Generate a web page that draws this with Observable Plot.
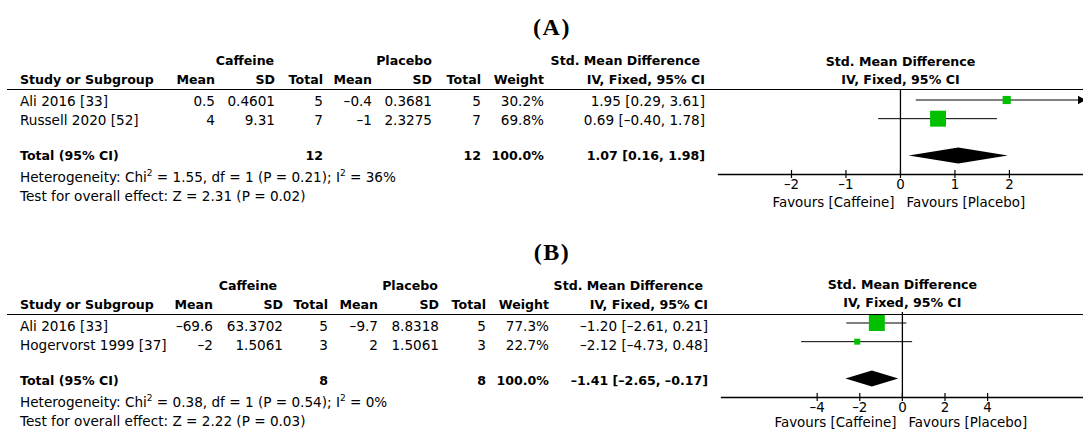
<!DOCTYPE html>
<html><head><meta charset="utf-8">
<script src="https://cdn.jsdelivr.net/npm/d3@7"></script>
<script src="https://cdn.jsdelivr.net/npm/@observablehq/plot@0.6"></script>
<style>
body{margin:0;background:#fff;}
#root{position:relative;width:1083px;height:431px;overflow:hidden;font-family:"DejaVu Sans",sans-serif;font-size:13.6px;color:#000;background:#fff;}
.t{position:absolute;white-space:nowrap;line-height:18px;height:18px;}
.b{font-weight:bold;font-size:12.6px;}
.title{position:absolute;font-family:"Liberation Serif",serif;font-weight:bold;font-size:24px;line-height:24px;letter-spacing:1.5px;transform:translate(-50%,-50%);}
.hr{position:absolute;height:0;border-top:1.5px solid #000;}
.pw{position:absolute;}
sup{font-size:9px;vertical-align:6px;line-height:0;}
</style></head><body><div id="root"></div>
<script>
// ---------- data ----------
const panelTitles = ["(A)", "(B)"];
const groupHeaders = ["Caffeine", "Placebo", "Std. Mean Difference"];
const colHeaders = ["Study or Subgroup", "Mean", "SD", "Total", "Mean", "SD", "Total", "Weight", "IV, Fixed, 95% CI"];
const plotHeaders = ["Std. Mean Difference", "IV, Fixed, 95% CI"];
const favourLabels = ["Favours [Caffeine]", "Favours [Placebo]"];
const totalLabel = "Total (95% CI)";

// Panel A
const studiesA = ["Ali 2016 [33]", "Russell 2020 [52]"];
const caffMeanA = [0.5, 4];
const caffSdA = [0.4601, 9.31];
const caffNA = [5, 7];
const placMeanA = [-0.4, -1];
const placSdA = [0.3681, 2.3275];
const placNA = [5, 7];
const weightA = [30.2, 69.8];
const smdA = [1.95, 0.69];
const loA = [0.29, -0.40];
const hiA = [3.61, 1.78];
const totalNA = [12, 12];
const totalWeightA = 100.0;
const totalCIA = [1.07, 0.16, 1.98];
const hetA = [1.55, 1, 0.21, 36];   // Chi2, df, P, I2
const testA = [2.31, 0.02];         // Z, P
const ticksA = [-2, -1, 0, 1, 2];
const xExtentA = [-3.34, 3.36];

// Panel B
const studiesB = ["Ali 2016 [33]", "Hogervorst 1999 [37]"];
const caffMeanB = [-69.6, -2];
const caffSdB = [63.3702, 1.5061];
const caffNB = [5, 3];
const placMeanB = [-9.7, 2];
const placSdB = [8.8318, 1.5061];
const placNB = [5, 3];
const weightB = [77.3, 22.7];
const smdB = [-1.20, -2.12];
const loB = [-2.61, -4.73];
const hiB = [0.21, 0.48];
const totalNB = [8, 8];
const totalWeightB = 100.0;
const totalCIB = [-1.41, -2.65, -0.17];
const hetB = [0.38, 1, 0.54, 0];
const testB = [2.22, 0.03];
const ticksB = [-4, -2, 0, 2, 4];
const xExtentB = [-8.49, 8.5];

// ---------- helpers ----------
const root = document.getElementById("root");
const W = 1083;
const neg = s => s.replace(/-/g, "\u2013");
const num = v => neg(String(v));
const fx = (v, d) => neg(v.toFixed(d));
const ci = (e, l, h) => `${fx(e,2)} [${fx(l,2)}, ${fx(h,2)}]`;

function put(text, x, y, align, cls) {
  const el = document.createElement("div");
  el.className = "t " + (cls || "");
  el.innerHTML = text;
  el.style.top = (y - 9) + "px";
  if (align === "right") el.style.right = (W - x) + "px";
  else if (align === "center") { el.style.left = x + "px"; el.style.transform = "translateX(-50%)"; }
  else el.style.left = x + "px";
  root.appendChild(el);
}

function forest(cfg) {
  const rows = cfg.studies.map((s, i) => ({study: s, row: i, smd: cfg.smd[i], lo: cfg.lo[i], hi: cfg.hi[i], weight: cfg.weight[i]}));
  const tRow = cfg.studies.length + 1;
  const [est, lo, hi] = cfg.totalCI;
  const h = 0.43;
  const diamond = [
    {x: lo, y1: tRow, y2: tRow},
    {x: est, y1: tRow - h, y2: tRow + h},
    {x: hi, y1: tRow, y2: tRow}
  ];
  const [xmin, xmax] = cfg.xExtent;
  return Plot.plot({
    width: 383, height: 170,
    marginTop: 44, marginBottom: 41, marginLeft: cfg.marginLeft, marginRight: 0,
    x: {domain: cfg.xExtent},
    y: {domain: [0, tRow], range: [54.5, 110.5], axis: null},
    r: {type: "pow", exponent: 0.8, domain: [0, d3.max(cfg.weight)], range: [0, 9]},
    style: {background: "none", fontFamily: "DejaVu Sans, sans-serif", fontSize: "13.4px", overflow: "visible", color: "#000"},
    marks: [
      Plot.ruleX([0], {stroke: "#000", strokeWidth: 1.3}),
      Plot.frame({anchor: "bottom", stroke: "#000", strokeWidth: 1.3}),
      Plot.ruleY(rows, {y: "row", x1: d => Math.max(d.lo, xmin), x2: d => Math.min(d.hi, xmax), stroke: "#000", strokeWidth: 1}),
      Plot.dot(rows.filter(d => d.hi > xmax), {x: () => xmax, y: "row", symbol: "triangle", rotate: 90, r: 3.2, fill: "#000", dx: -3}),
      Plot.dot(rows, {x: "smd", y: "row", r: "weight", symbol: "square", fill: "#00c000", stroke: null}),
      Plot.areaY(diamond, {x: "x", y1: "y1", y2: "y2", fill: "#000"}),
      Plot.axisX({ticks: cfg.ticks, tickFormat: d => num(d), tickSize: 8, dy: -4, tickPadding: 1, stroke: "#000", strokeWidth: 1.2}),
      Plot.text([plotHeaders[0]], {x: () => 0, text: d => d, frameAnchor: "top", lineAnchor: "middle", dy: -28, fontWeight: "bold", fontSize: 12.6}),
      Plot.text([plotHeaders[1]], {x: () => 0, text: d => d, frameAnchor: "top", lineAnchor: "middle", dy: -9.5, fontWeight: "bold", fontSize: 12.6}),
      Plot.text([favourLabels[0]], {x: () => 0, text: d => d, frameAnchor: "bottom", lineAnchor: "middle", dy: cfg.favDy, dx: -6, textAnchor: "end"}),
      Plot.text([favourLabels[1]], {x: () => 0, text: d => d, frameAnchor: "bottom", lineAnchor: "middle", dy: cfg.favDy, dx: 6, textAnchor: "start"})
    ]
  });
}

function panel(cfg) {
  const T = cfg.top;
  const tt = document.createElement("div");
  tt.className = "title"; tt.textContent = cfg.title;
  tt.style.left = "552px"; tt.style.top = (T + 27) + "px";
  root.appendChild(tt);

  const c = cfg.cols;
  put(groupHeaders[0], c.caff, T + 61, "center", "b");
  put(groupHeaders[1], c.plac, T + 61, "center", "b");
  put(groupHeaders[2], c.smdHdr, T + 61, "right", "b");
  put(colHeaders[0], c.study, T + 79.5, "left", "b");
  const keys = ["mean", "sd", "n", "pmean", "psd", "pn", "w", "ci"];
  keys.forEach((k, i) => put(colHeaders[i + 1], c[k], T + 79.5, "right", "b"));

  const hr = document.createElement("div");
  hr.className = "hr"; hr.style.left = "7px"; hr.style.width = (W - 7) + "px"; hr.style.top = (T + 88.5) + "px";
  root.appendChild(hr);

  const rowY = [100.5, 119.5];
  cfg.studies.forEach((s, i) => {
    const y = T + rowY[i];
    put(s, c.study, y, "left");
    put(num(cfg.caffMean[i]), c.mean, y, "right");
    put(num(cfg.caffSd[i]), c.sd, y, "right");
    put(num(cfg.caffN[i]), c.n, y, "right");
    put(num(cfg.placMean[i]), c.pmean, y, "right");
    put(num(cfg.placSd[i]), c.psd, y, "right");
    put(num(cfg.placN[i]), c.pn, y, "right");
    put(cfg.weight[i].toFixed(1) + "%", c.w, y, "right");
    put(ci(cfg.smd[i], cfg.lo[i], cfg.hi[i]), c.ci, y, "right");
  });

  const ty = T + 155.5;
  put(totalLabel, c.study, ty, "left", "b");
  put(String(cfg.totalN[0]), c.n, ty, "right", "b");
  put(String(cfg.totalN[1]), c.pn, ty, "right", "b");
  put(cfg.totalWeight.toFixed(1) + "%", c.w, ty, "right", "b");
  put(ci(...cfg.totalCI), c.ci, ty, "right", "b");

  const [chi, df, p, i2] = cfg.het;
  put(`Heterogeneity: Chi<sup>2</sup> = ${chi.toFixed(2)}, df = ${df} (P = ${p.toFixed(2)}); I<sup>2</sup> = ${i2}%`, c.study, T + 177, "left");
  put(`Test for overall effect: Z = ${cfg.test[0].toFixed(2)} (P = ${cfg.test[1].toFixed(2)})`, c.study, T + 196, "left");

  const wrap = document.createElement("div");
  wrap.className = "pw";
  wrap.style.left = "700px"; wrap.style.top = (T + cfg.plotShift + 45) + "px";
  wrap.appendChild(forest(cfg));
  root.appendChild(wrap);
}

panel({
  title: panelTitles[0], top: 0, plotShift: 0, marginLeft: 18, favDy: 28.5,
  cols: {study: 20, mean: 215, sd: 275, n: 323, pmean: 372, psd: 432, pn: 481, w: 544, ci: 705, caff: 245, plac: 404, smdHdr: 700},
  studies: studiesA, caffMean: caffMeanA, caffSd: caffSdA, caffN: caffNA,
  placMean: placMeanA, placSd: placSdA, placN: placNA, weight: weightA,
  smd: smdA, lo: loA, hi: hiA, totalN: totalNA, totalWeight: totalWeightA, totalCI: totalCIA,
  het: hetA, test: testA, ticks: ticksA, xExtent: xExtentA
});
panel({
  title: panelTitles[1], top: 225, plotShift: -2, marginLeft: 21, favDy: 25.5,
  cols: {study: 20, mean: 213, sd: 283, n: 328, pmean: 378, psd: 439, pn: 486, w: 549, ci: 708, caff: 248, plac: 410, smdHdr: 703},
  studies: studiesB, caffMean: caffMeanB, caffSd: caffSdB, caffN: caffNB,
  placMean: placMeanB, placSd: placSdB, placN: placNB, weight: weightB,
  smd: smdB, lo: loB, hi: hiB, totalN: totalNB, totalWeight: totalWeightB, totalCI: totalCIB,
  het: hetB, test: testB, ticks: ticksB, xExtent: xExtentB
});
</script></body></html>
